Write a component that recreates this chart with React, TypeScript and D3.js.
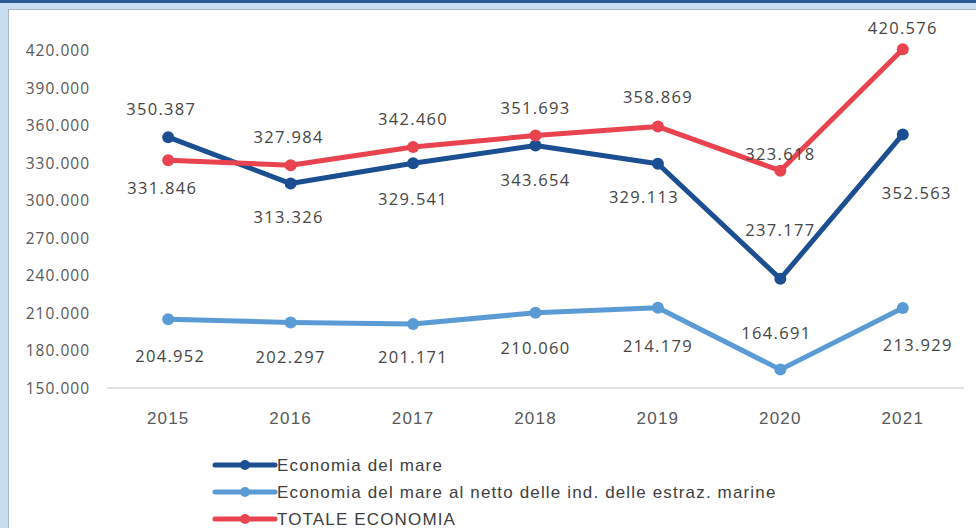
import React from "react";
import * as d3 from "d3";

const years = ["2015", "2016", "2017", "2018", "2019", "2020", "2021"];
const mare = [350387, 313326, 329541, 343654, 329113, 237177, 352563];
const mareNetto = [204952, 202297, 201171, 210060, 214179, 164691, 213929];
const totale = [331846, 327984, 342460, 351693, 358869, 323618, 420576];
const yTicks = [150000, 180000, 210000, 240000, 270000, 300000, 330000, 360000, 390000, 420000];

const seriesNames = [
  "Economia del mare",
  "Economia del mare al netto delle ind. delle estraz. marine",
  "TOTALE ECONOMIA",
];

// label offsets (styling) per series, per point
const mareLab = { dx: [-7, -2, 0, 0, -14, 0, 14], dy: [-29, 33, 35, 34, 33, -49, 58] };
const nettoLab = { dx: [2, 0, 0, 0, 0, -4, 15], dy: [36, 34, 33, 35, 38, -37, 37] };
const totLab = { dx: [-6, -2, 0, 0, 0, 0, 0], dy: [27, -29, -29, -28, -30, -17, -22] };

const W = 976;
const H = 528;

const fmt = (v: number) => (v / 1000).toFixed(3);

export default function App() {
  const x = d3.scaleBand<string>().domain(years).range([107, 964]);
  const y = d3.scaleLinear().domain([150000, 420000]).range([388, 50]);
  const cx = (yr: string) => (x(yr) as number) + x.bandwidth() / 2;

  const line = d3
    .line<number>()
    .x((_, i) => cx(years[i]))
    .y((d) => y(d));

  const series = [
    { values: mare, color: "#1C4F92", lab: mareLab },
    { values: mareNetto, color: "#5B9BD5", lab: nettoLab },
    { values: totale, color: "#E8434F", lab: totLab },
  ];

  const textFont = "'Open Sans', sans-serif";

  return (
    <svg
      width={W}
      height={H}
      style={{ position: "absolute", left: 0, top: 0, background: "#fff" }}
    >
      <rect x={0} y={0} width={W} height={H} fill="#C8DDEF" />
      <rect x={0} y={0} width={W} height={3} fill="#2C5896" />
      <rect x={8.5} y={9.5} width={W} height={H} fill="#FFFFFF" stroke="#A8B4C0" strokeWidth={1} />

      {/* y axis labels */}
      {yTicks.map((t) => (
        <text
          key={t}
          x={90}
          y={y(t)}
          textAnchor="end"
          dominantBaseline="central"
          fontFamily={textFont}
          fontSize={15.5}
          letterSpacing={1}
          fill="#595959"
        >
          {fmt(t)}
        </text>
      ))}

      {/* baseline */}
      <line x1={107} x2={964} y1={y(150000)} y2={y(150000)} stroke="#D9D9D9" strokeWidth={1.5} />

      {/* x labels */}
      {years.map((yr) => (
        <text
          key={yr}
          x={cx(yr)}
          y={418}
          textAnchor="middle"
          dominantBaseline="central"
          fontFamily="'Liberation Sans Narrow', 'Liberation Sans', sans-serif"
          fontSize={17}
          letterSpacing={1.2}
          fill="#595959"
        >
          {yr}
        </text>
      ))}

      {/* lines */}
      {series.map((s, si) => (
        <g key={si}>
          <path d={line(s.values) || ""} fill="none" stroke={s.color} strokeWidth={5} strokeLinejoin="round" strokeLinecap="round" />
          {s.values.map((v, i) => (
            <circle key={i} cx={cx(years[i])} cy={y(v)} r={6} fill={s.color} />
          ))}
        </g>
      ))}

      {/* data labels */}
      {series.map((s, si) =>
        s.values.map((v, i) => (
          <text
            key={`${si}-${i}`}
            x={cx(years[i]) + s.lab.dx[i]}
            y={y(v) + s.lab.dy[i]}
            textAnchor="middle"
            dominantBaseline="central"
            fontFamily={textFont}
            fontSize={16.5}
            letterSpacing={1.3}
            fill="#454545"
          >
            {fmt(v)}
          </text>
        ))
      )}

      {/* legend */}
      {series.map((s, si) => {
        const ly = 465 + si * 27;
        return (
          <g key={si}>
            <line x1={215} x2={275} y1={ly} y2={ly} stroke={s.color} strokeWidth={5} strokeLinecap="round" />
            <circle cx={245} cy={ly} r={5} fill={s.color} />
            <text
              x={277}
              y={ly}
              dominantBaseline="central"
              fontFamily="'Liberation Sans Narrow', 'Liberation Sans', sans-serif"
              fontSize={17}
              letterSpacing={1.15}
              fill="#404040"
            >
              {seriesNames[si]}
            </text>
          </g>
        );
      })}
    </svg>
  );
}
